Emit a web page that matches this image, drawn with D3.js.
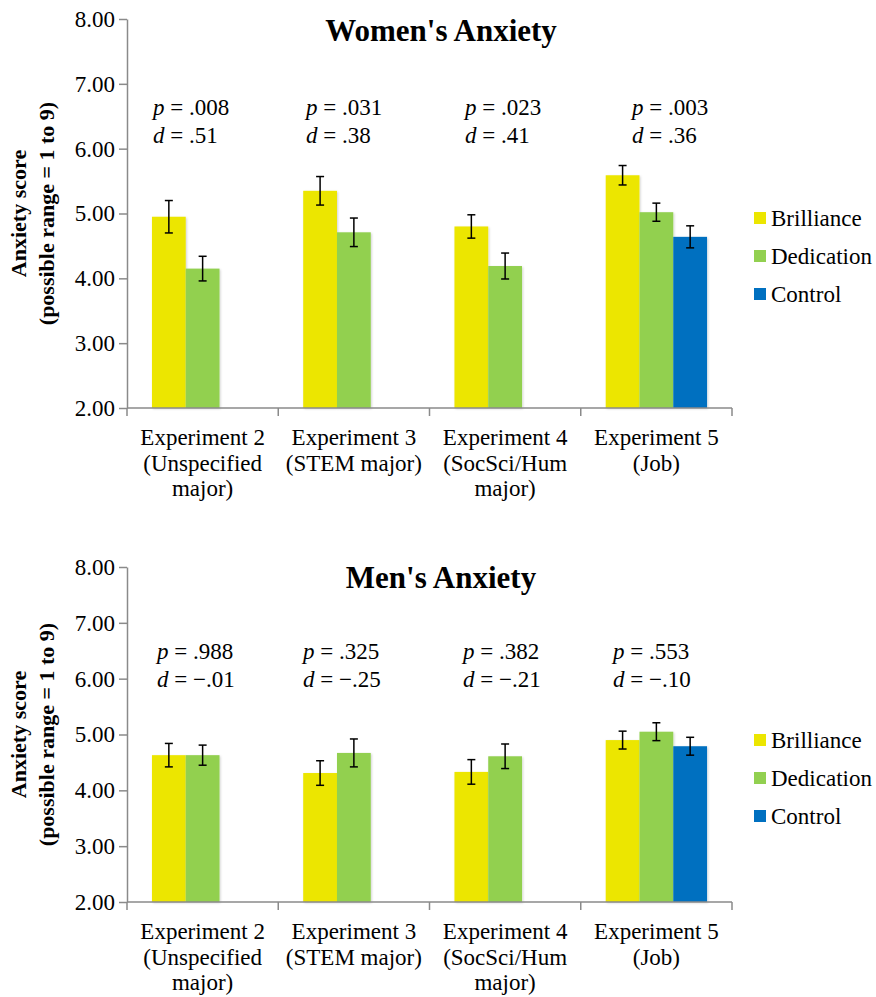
<!DOCTYPE html>
<html>
<head>
<meta charset="utf-8">
<script src="https://cdn.jsdelivr.net/npm/d3@7"></script>
<style>
  body { margin: 0; background: #fff; }
</style>
</head>
<body>
<script>
// Data
const experiments = [
  ["Experiment 2", "(Unspecified", "major)"],
  ["Experiment 3", "(STEM major)"],
  ["Experiment 4", "(SocSci/Hum", "major)"],
  ["Experiment 5", "(Job)"]
];
const conditions = ["Brilliance", "Dedication", "Control"];
const colors = ["#ece600", "#92d050", "#0070c0"];
const yTicks = [2, 3, 4, 5, 6, 7, 8];

// null = condition not run in that experiment
const womenMeans = [[4.95, 4.15, null], [5.35, 4.71, null], [4.80, 4.19, null], [5.59, 5.02, 4.64]];
const womenErr   = [[0.25, 0.19, null], [0.22, 0.22, null], [0.18, 0.20, null], [0.15, 0.14, 0.17]];
const womenP = [".008", ".031", ".023", ".003"];
const womenD = [".51", ".38", ".41", ".36"];

const menMeans = [[4.63, 4.63, null], [4.31, 4.67, null], [4.33, 4.61, null], [4.90, 5.05, 4.79]];
const menErr   = [[0.21, 0.18, null], [0.22, 0.25, null], [0.22, 0.22, null], [0.16, 0.16, 0.16]];
const menP = [".988", ".325", ".382", ".553"];
const menD = ["\u2212.01", "\u2212.25", "\u2212.21", "\u2212.10"];

const FONT = "Liberation Serif";
const width = 876, height = 997;
const svg = d3.select("body").append("svg")
  .attr("width", width)
  .attr("height", height)
  .attr("viewBox", [0, 0, width, height])
  .attr("font-family", FONT);

// faint shadow like the spreadsheet bars
svg.append("defs").append("filter")
  .attr("id", "shadow")
  .attr("x", "-10%").attr("y", "-10%").attr("width", "130%").attr("height", "130%")
  .append("feDropShadow")
  .attr("dx", 1).attr("dy", 1).attr("stdDeviation", 1)
  .attr("flood-color", "#000").attr("flood-opacity", 0.18);

function drawPanel({ title, means, errs, pVals, dVals, top, bottom, titleY, pY, noteX, legendY }) {
  const g = svg.append("g").attr("font-family", FONT);

  const x0 = d3.scaleBand()
    .domain(d3.range(experiments.length))
    .range([127, 732])
    .paddingInner(0.33)
    .paddingOuter(0.165);
  const x1 = d3.scaleBand()
    .domain(d3.range(conditions.length))
    .range([0, x0.bandwidth()]);
  const y = d3.scaleLinear().domain([2, 8]).range([bottom, top]);

  // y axis
  const yAxis = g.append("g")
    .attr("transform", `translate(127,0)`)
    .call(d3.axisLeft(y).tickValues(yTicks).tickFormat(d3.format(".2f")).tickSize(8).tickSizeOuter(0).tickPadding(4))
    .attr("font-family", FONT)
    .attr("font-size", 23);
  yAxis.selectAll("path, line").attr("stroke", "#8a8a8a").attr("stroke-width", 1.5);
  yAxis.selectAll("text").attr("fill", "#000");

  // bars
  const groups = g.append("g").selectAll("g")
    .data(means)
    .join("g")
    .attr("transform", (d, i) => `translate(${x0(i)},0)`);

  groups.selectAll("rect")
    .data((d, i) => d.map((v, j) => ({ v, j, e: errs[i][j] })).filter(d => d.v != null))
    .join("rect")
    .attr("x", d => x1(d.j))
    .attr("width", x1.bandwidth())
    .attr("y", d => y(d.v))
    .attr("height", d => y(2) - y(d.v))
    .attr("fill", d => colors[d.j])
    .attr("filter", "url(#shadow)");

  // error bars
  const eb = groups.selectAll("g.err")
    .data((d, i) => d.map((v, j) => ({ v, j, e: errs[i][j] })).filter(d => d.v != null))
    .join("g")
    .attr("class", "err")
    .attr("stroke", "#000")
    .attr("stroke-width", 1.5);
  eb.append("line")
    .attr("x1", d => x1(d.j) + x1.bandwidth() / 2)
    .attr("x2", d => x1(d.j) + x1.bandwidth() / 2)
    .attr("y1", d => y(d.v + d.e))
    .attr("y2", d => y(d.v - d.e));
  eb.selectAll("line.cap")
    .data(d => [d.v + d.e, d.v - d.e].map(t => ({ t, j: d.j })))
    .join("line")
    .attr("class", "cap")
    .attr("x1", d => x1(d.j) + x1.bandwidth() / 2 - 4)
    .attr("x2", d => x1(d.j) + x1.bandwidth() / 2 + 4)
    .attr("y1", d => y(d.t))
    .attr("y2", d => y(d.t));

  // x axis with ticks at category boundaries
  const gap = (x0.step() - x0.bandwidth()) / 2;
  const bounds = x0.domain().map(i => x0(i) - gap).concat([732]);
  g.append("line")
    .attr("x1", 127).attr("x2", 732)
    .attr("y1", y(2)).attr("y2", y(2))
    .attr("stroke", "#8a8a8a").attr("stroke-width", 1.5);
  g.append("g").selectAll("line")
    .data(bounds)
    .join("line")
    .attr("x1", d => d).attr("x2", d => d)
    .attr("y1", y(2)).attr("y2", y(2) + 8)
    .attr("stroke", "#8a8a8a").attr("stroke-width", 1.5);

  // category labels
  const labels = g.append("g").selectAll("text")
    .data(experiments)
    .join("text")
    .attr("text-anchor", "middle")
    .attr("font-size", 23)
    .attr("transform", (d, i) => `translate(${x0(i) + x0.bandwidth() / 2},${y(2) + 37})`);
  labels.selectAll("tspan")
    .data(d => d)
    .join("tspan")
    .attr("x", 0)
    .attr("y", (d, k) => k * 25.5)
    .text(d => d);

  // p and d annotations
  const notes = g.append("g").selectAll("g")
    .data(experiments.map((e, i) => ({ p: pVals[i], d: dVals[i], x: noteX[i] })))
    .join("g")
    .attr("transform", d => `translate(${d.x},${pY})`);
  const pt = notes.append("text").attr("font-size", 23);
  pt.append("tspan").attr("font-style", "italic").text("p");
  pt.append("tspan").text(d => " = " + d.p);
  const dt = notes.append("text").attr("y", 27.5).attr("font-size", 23);
  dt.append("tspan").attr("font-style", "italic").text("d");
  dt.append("tspan").text(d => " = " + d.d);

  // title
  g.append("text")
    .attr("x", 441)
    .attr("y", titleY)
    .attr("text-anchor", "middle")
    .attr("font-size", 31)
    .attr("font-weight", "bold")
    .text(title);

  // y axis title
  const yt = g.append("text")
    .attr("transform", `translate(0,${(top + bottom) / 2}) rotate(-90)`)
    .attr("text-anchor", "middle")
    .attr("font-size", 22)
    .attr("font-weight", "bold");
  yt.append("tspan").attr("x", 0).attr("y", 26).text("Anxiety score");
  yt.append("tspan").attr("x", 0).attr("y", 54).text("(possible range = 1 to 9)");

  // legend
  const leg = g.append("g").selectAll("g")
    .data(conditions)
    .join("g")
    .attr("transform", (d, i) => `translate(754,${legendY + i * 38})`);
  leg.append("rect")
    .attr("x", 0).attr("y", -14)
    .attr("width", 12).attr("height", 12)
    .attr("fill", (d, i) => colors[i]);
  leg.append("text")
    .attr("x", 17)
    .attr("font-size", 23)
    .text(d => d);
}

drawPanel({
  title: "Women's Anxiety",
  means: womenMeans, errs: womenErr, pVals: womenP, dVals: womenD,
  top: 19, bottom: 408, titleY: 41, pY: 115,
  noteX: [153, 306, 465, 632],
  legendY: 226
});

drawPanel({
  title: "Men's Anxiety",
  means: menMeans, errs: menErr, pVals: menP, dVals: menD,
  top: 567, bottom: 902, titleY: 588, pY: 659,
  noteX: [157, 303, 463, 613],
  legendY: 748
});
</script>
</body>
</html>
